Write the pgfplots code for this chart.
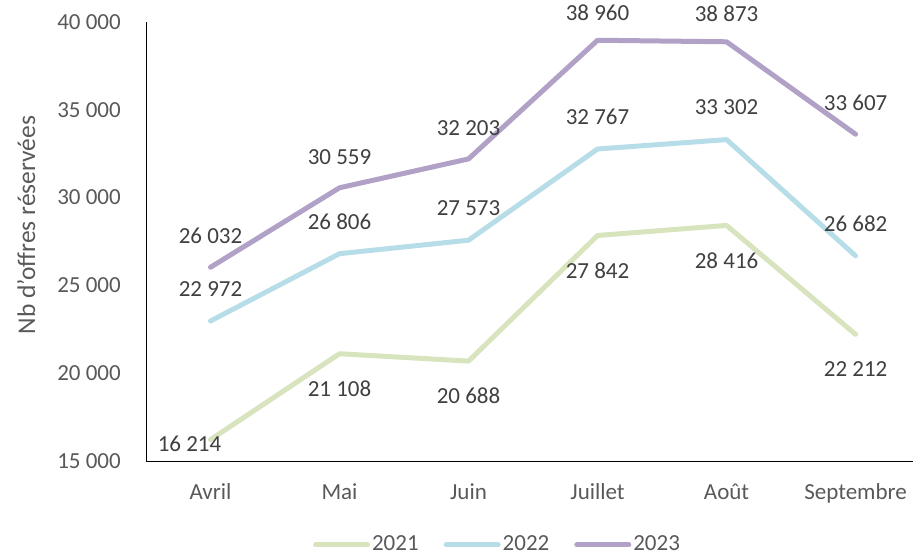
\documentclass[border=0pt]{standalone}
\usepackage{pgfplots}
\pgfplotsset{compat=1.18}
\usepackage{fontspec}
\setmainfont{Carlito}
\definecolor{c21}{RGB}{215,228,189}
\definecolor{c22}{RGB}{183,222,232}
\definecolor{c23}{RGB}{178,161,199}
\definecolor{tickgray}{RGB}{89,89,89}
\definecolor{labgray}{RGB}{64,64,64}
\newcommand\ff{\fontsize{23}{27}\selectfont}
\newcommand\fl{\fontsize{25.5}{30}\selectfont}
\pgfkeys{/pgf/number format/.cd,1000 sep={\ },assume math mode=true}

\pgfplotstableread{
x y dx dy
0 16214 -21 -4
1 21108 0 -35
2 20688 0 -35
3 27842 0 -35
4 28416 0 -35
5 22212 0 -35
}\dataA
\pgfplotstableread{
x y dx dy
0 22972 0 32
1 26806 0 32
2 27573 0 32
3 32767 0 32
4 33302 0 32
5 26682 0 32
}\dataB
\pgfplotstableread{
x y dx dy
0 26032 0 31
1 30559 0 31
2 32203 0 31
3 38960 0 28
4 38873 0 28
5 33607 0 31
}\dataC

\begin{document}
\ff
\begin{tikzpicture}
\useasboundingbox (-146pt,-95pt) rectangle (767pt,461pt);
\begin{axis}[
  at={(0pt,0pt)}, anchor=south west,
  scale only axis, width=767pt, height=439pt,
  xmin=-0.5, xmax=5.445, ymin=15000, ymax=40000,
  clip=false,
  axis x line*=bottom, axis y line*=left,
  axis line style={black, line width=0.8pt, -},
  xtick={0,...,5}, xticklabels={Avril,Mai,Juin,Juillet,Août,Septembre},
  ytick={15000,20000,...,40000},
  scaled y ticks=false,
  major tick length=0pt,
  tick label style={font=\ff, text=tickgray},
  xticklabel style={anchor=base, yshift=-39pt},
  yticklabel style={anchor=east, inner sep=0pt, xshift=-25pt},
  ylabel={Nb d’offres réservées},
  ylabel style={font=\fl, text=tickgray, at={(axis description cs:-0.1447,0.5376)}, anchor=base, rotate=0},
  legend columns=3,
  legend style={at={(axis description cs:0.4583,-0.1913)}, anchor=center, draw=none, fill=none, font=\ff, text=tickgray,
    /tikz/every even column/.append style={column sep=23pt}},
  legend image code/.code={\draw[#1, line cap=round] (0pt,0pt) -- (52pt,0pt);},
  every axis plot/.append style={line width=5pt, line join=round, line cap=round, no markers},
  point meta=y,
  nodes near coords,
  visualization depends on={\thisrow{dx}\as\dx},
  visualization depends on={\thisrow{dy}\as\dy},
  every node near coord/.append style={font=\ff, text=labgray, anchor=center, xshift=\dx pt, yshift=\dy pt},
]
\addplot[c21] table[x=x,y=y] {\dataA};
\addlegendentry{2021}
\addplot[c22] table[x=x,y=y] {\dataB};
\addlegendentry{2022}
\addplot[c23] table[x=x,y=y] {\dataC};
\addlegendentry{2023}
\end{axis}
\end{tikzpicture}
\end{document}
